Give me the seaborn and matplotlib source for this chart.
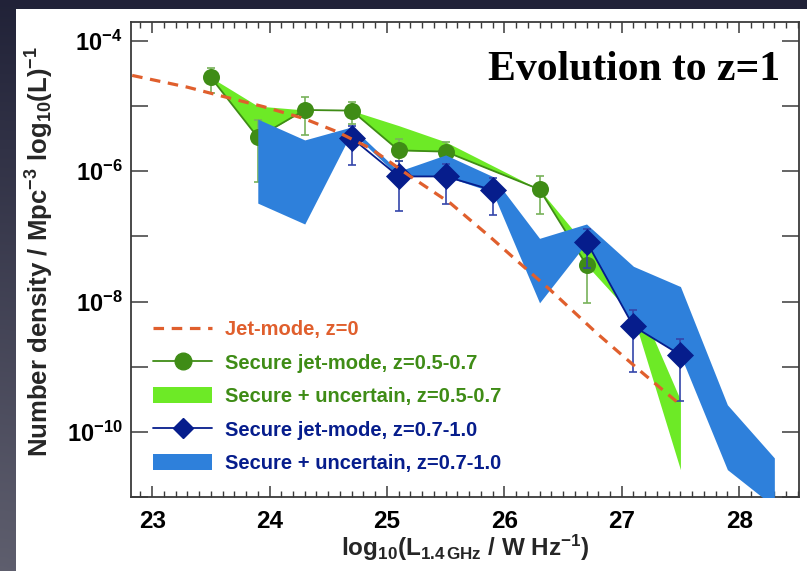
import numpy as np
import pandas as pd
import matplotlib
matplotlib.use("Agg")
import matplotlib.pyplot as plt
import seaborn as sns
from matplotlib.lines import Line2D
from matplotlib.patches import Patch, Rectangle
from matplotlib.ticker import FixedLocator, FuncFormatter, MultipleLocator

# ---- data: log10 luminosity (W/Hz) and log10 number density (Mpc^-3 dex^-1) ----
jet_z0_logL = [22.83, 23.30, 23.61, 23.95, 24.29, 24.57, 24.86, 25.20,
               25.54, 25.88, 26.13, 26.39, 26.79, 27.18, 27.50]
jet_z0_logphi = [-4.53, -4.71, -4.855, -5.01, -5.19, -5.39, -5.65, -6.08,
                 -6.49, -7.01, -7.41, -7.82, -8.49, -9.10, -9.585]

green_logL = [23.5, 23.9, 24.3, 24.7, 25.1, 25.5, 26.3, 26.7]
green_logphi = [-4.56, -5.48, -5.06, -5.07, -5.68, -5.70, -6.28, -7.44]
green_err_hi = [-4.41, -5.21, -4.855, -4.94, -5.51, -5.555, -6.07, -7.25]
green_err_lo = [-4.80, -6.17, -5.44, -5.27, -5.85, -5.85, -6.66, -8.03]

green_band_logL = [23.5, 23.9, 24.3, 24.7, 25.1, 25.5, 26.3, 26.7, 27.1, 27.5]
green_band_hi = [-4.56, -5.00, -5.06, -5.07, -5.30, -5.55, -6.28, -7.15, -7.85, -9.51]
green_band_lo = [-4.56, -5.48, -5.06, -5.07, -5.68, -5.70, -6.28, -7.44, -8.23, -10.58]

blue_logL = [24.7, 25.1, 25.5, 25.9, 26.3, 26.7, 27.1, 27.5]
blue_logphi = [-5.49, -6.08, -6.08, -6.29, np.nan, -7.08, -8.38, -8.82]
blue_err_hi = [-5.31, -5.85, -5.89, -6.10, np.nan, -6.89, -8.13, -8.57]
blue_err_lo = [-5.90, -6.61, -6.50, -6.67, np.nan, -7.49, -9.08, -9.52]

blue_band_logL = [23.9, 24.3, 24.7, 25.1, 25.5, 25.9, 26.3, 26.7, 27.1, 27.5, 27.9, 28.3]
blue_band_hi = [-5.20, -5.52, -5.32, -6.00, -5.75, -6.08, -7.03, -6.81, -7.46, -7.77, -9.585, -10.40]
blue_band_lo = [-6.49, -6.81, -5.40, -6.08, -6.08, -6.32, -8.02, -7.10, -8.38, -8.82, -10.58, -11.15]

x_ticks = [23, 24, 25, 26, 27, 28]
y_decades = [-11, -10, -9, -8, -7, -6, -5, -4]

labels = ["Jet-mode, z=0",
          "Secure jet-mode, z=0.5-0.7",
          "Secure + uncertain, z=0.5-0.7",
          "Secure jet-mode, z=0.7-1.0",
          "Secure + uncertain, z=0.7-1.0"]

# ---- colours ----
c_orange = "#e05f2d"
c_green = "#3f8c16"
c_green_err = "#78b25a"
c_lime = "#6dea26"
c_navy = "#061d8c"
c_navy_err = "#3446aa"
c_blue = "#2e80db"
c_spine = "#3a3a3a"

sns.set_theme(style="ticks")
plt.rcParams["font.family"] = ["Liberation Sans", "DejaVu Sans"]
plt.rcParams["font.weight"] = "bold"
plt.rcParams["mathtext.fontset"] = "custom"
plt.rcParams["mathtext.rm"] = "Liberation Sans:bold"
plt.rcParams["mathtext.bf"] = "Liberation Sans:bold"
plt.rcParams["mathtext.it"] = "Liberation Sans:bold"
plt.rcParams["mathtext.default"] = "bf"

W, H = 807, 571
fig = plt.figure(figsize=(W / 100, H / 100), dpi=100)

# dark slide background with a soft vertical gradient
bg = fig.add_axes([0, 0, 1, 1], zorder=-10)
yy = np.linspace(0, 1, 200)[:, None]
xx = np.linspace(0, 1, 200)[None, :]
t = np.clip(yy * (1 - 0.3 * xx), 0, 1)
top = np.array([0.13, 0.135, 0.22])
bot = np.array([0.37, 0.37, 0.43])
img = top[None, None, :] * (1 - t[..., None]) + bot[None, None, :] * t[..., None]
bg.imshow(img, aspect="auto", extent=[0, 1, 0, 1], origin="upper")
bg.set_xlim(0, 1)
bg.set_ylim(0, 1)
bg.axis("off")
fig.patches.append(Rectangle((16 / W, 0), 1 - 16 / W, 1 - 9 / H,
                             transform=fig.transFigure, facecolor="white",
                             edgecolor="none", zorder=-5))

L, R, T, B = 131, 799, 22, 497
ax = fig.add_axes([L / W, 1 - B / H, (R - L) / W, (B - T) / H])
ax.set_facecolor("white")
ax.set_yscale("log")


def lin(v):
    return np.power(10.0, np.asarray(v, dtype=float))


# green band (secure + uncertain, z=0.5-0.7)
ax.fill_between(green_band_logL, lin(green_band_lo), lin(green_band_hi),
                color=c_lime, linewidth=0, zorder=1)

# green secure points
gdf = pd.DataFrame({"logL": green_logL, "phi": lin(green_logphi)})
g_lo = lin(green_logphi) - lin(green_err_lo)
g_hi = lin(green_err_hi) - lin(green_logphi)
ax.errorbar(green_logL, lin(green_logphi), yerr=[g_lo, g_hi], fmt="none",
            ecolor=c_green_err, elinewidth=1.2, capsize=3, capthick=1.2, zorder=2)
sns.lineplot(data=gdf, x="logL", y="phi", color=c_green, linewidth=1.3,
             estimator=None, sort=False, ax=ax, zorder=3, legend=False)
sns.scatterplot(data=gdf, x="logL", y="phi", color=c_green, s=150,
                marker="o", linewidth=0, ax=ax, zorder=4, legend=False)

# blue band (secure + uncertain, z=0.7-1.0)
ax.fill_between(blue_band_logL, lin(blue_band_lo), lin(blue_band_hi),
                color=c_blue, linewidth=0, zorder=5)

# blue secure points (line broken where a bin is empty)
bphi = lin(blue_logphi)
seg = np.cumsum(np.isnan(bphi))
bdf = pd.DataFrame({"logL": blue_logL, "phi": bphi, "seg": seg}).dropna()
b_lo = bphi - lin(blue_err_lo)
b_hi = lin(blue_err_hi) - bphi
ax.errorbar(blue_logL, bphi, yerr=[b_lo, b_hi], fmt="none",
            ecolor=c_navy_err, elinewidth=1.2, capsize=3, capthick=1.2, zorder=6)
sns.lineplot(data=bdf, x="logL", y="phi", units="seg", estimator=None,
             color=c_navy, linewidth=1.3, sort=False, ax=ax, zorder=7, legend=False)
sns.scatterplot(data=bdf, x="logL", y="phi", color=c_navy, s=190,
                marker="D", linewidth=0, ax=ax, zorder=8, legend=False)

# local (z=0) jet-mode luminosity function
jdf = pd.DataFrame({"logL": jet_z0_logL, "phi": lin(jet_z0_logphi)})
sns.lineplot(data=jdf, x="logL", y="phi", color=c_orange, linewidth=2.3,
             dashes=False, estimator=None, sort=False, ax=ax, zorder=9,
             legend=False)
ax.lines[-1].set_dashes((3.3, 2.4))

# ---- axes ----
ax.set_xlim(22.82, 28.51)
ax.set_ylim(10 ** -11.0, 10 ** -3.71)
ax.xaxis.set_major_locator(FixedLocator(x_ticks))
ax.xaxis.set_minor_locator(MultipleLocator(0.1))
ax.yaxis.set_major_locator(FixedLocator([10.0 ** d for d in y_decades]))
ax.yaxis.set_minor_locator(FixedLocator([]))
ax.xaxis.set_major_formatter(FuncFormatter(lambda v, p: f"{v:.0f}"))


def yfmt(v, p):
    e = int(round(np.log10(v)))
    return rf"$10^{{{e}}}$" if e % 2 == 0 and e >= -10 else ""


ax.yaxis.set_major_formatter(FuncFormatter(yfmt))
ax.tick_params(axis="both", which="both", direction="in", top=True, right=True,
               colors=c_spine, labelcolor="black")
ax.tick_params(axis="x", which="major", length=8, width=1.1, labelsize=17.5, pad=9)
ax.tick_params(axis="x", which="minor", length=4, width=1.0)
ax.tick_params(axis="y", which="major", length=12, width=1.1, labelsize=17, pad=6)
for lab in ax.get_xticklabels() + ax.get_yticklabels():
    lab.set_fontweight("bold")
for sp in ax.spines.values():
    sp.set_color(c_spine)
    sp.set_linewidth(1.3)

ax.set_xlabel(r"log$_{10}$(L$_{1.4\,GHz}$ / W Hz$^{-1}$)", fontsize=17.5,
              fontweight="bold")
ax.set_ylabel(r"Number density / Mpc$^{-3}$ log$_{10}$(L)$^{-1}$", fontsize=18.5,
              fontweight="bold")
ax.xaxis.set_label_coords(0.5, -0.107)
ax.xaxis.label.set_va("center")
ax.yaxis.set_label_coords(-0.136, 0.516)
ax.yaxis.label.set_va("center")

ax.text(0.9716, 0.899, "Evolution to z=1", transform=ax.transAxes,
        ha="right", va="center", fontsize=30, fontweight="bold",
        family=["Liberation Serif", "DejaVu Serif"], color="black", zorder=20)

# ---- legend ----
handles = [
    Line2D([], [], color=c_orange, linewidth=2.3, dashes=(3.3, 2.4)),
    Line2D([], [], color=c_green, linewidth=1.3, marker="o", markersize=12),
    Patch(facecolor=c_lime, edgecolor="none"),
    Line2D([], [], color=c_navy, linewidth=1.3, marker="D", markersize=10),
    Patch(facecolor=c_blue, edgecolor="none"),
]
leg = ax.legend(handles, labels, loc="upper left", bbox_to_anchor=(0.021, 0.389),
                frameon=False, fontsize=14.5, handlelength=2.95, handleheight=0.85,
                handletextpad=0.6, labelspacing=0.72, borderaxespad=0)
for txt, col in zip(leg.get_texts(), [c_orange, c_green, c_green, c_navy, c_navy]):
    txt.set_color(col)
    txt.set_fontweight("bold")
leg.set_zorder(20)

fig.savefig("out.png", dpi=100)
